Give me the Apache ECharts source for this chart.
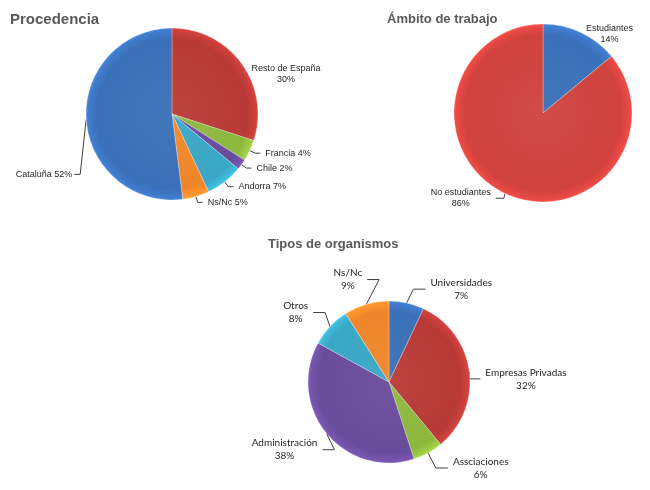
<!DOCTYPE html>
<html>
<head>
<meta charset="utf-8">
<script src="https://cdn.jsdelivr.net/npm/echarts@6/dist/echarts.min.js"></script>
<style>
  html, body { margin: 0; padding: 0; background: #fff; }
  #chart { width: 650px; height: 490px; }
</style>
</head>
<body>
<div id="chart"></div>
<script>
// datos (en sentido horario desde las 12)
const procedenciaNames = ['Resto de España', 'Francia', 'Chile', 'Andorra', 'Ns/Nc', 'Cataluña'];
const procedenciaValues = [30, 4, 2, 7, 5, 52];
const procedenciaColors = ['#B83A36', '#8DB83E', '#6A4C9C', '#3AA7C6', '#F0862A', '#3A70B8'];

const ambitoNames = ['Estudiantes', 'No estudiantes'];
const ambitoValues = [14, 86];
const ambitoColors = ['#3A70B8', '#D0423E'];

const tiposNames = ['Universidades', 'Empresas Privadas', 'Assciaciones', 'Administración', 'Otros', 'Ns/Nc'];
const tiposValues = [7, 32, 6, 38, 8, 9];
const tiposColors = ['#3A70B8', '#B83A36', '#8DB83E', '#6A4C9C', '#3AA7C6', '#F0862A'];

const FONT = 'Liberation Sans, Arial, sans-serif';

// sombreado tipo excel: borde un poco mas oscuro
function shade(c, cx, cy, r) {
    return {
        type: 'radial', x: cx, y: cy, r: r, global: true,
        colorStops: [
            { offset: 0, color: echarts.color.lift(c, 0.05) },
            { offset: 0.88, color: c },
            { offset: 0.97, color: echarts.color.lift(c, -0.12) },
            { offset: 1, color: echarts.color.lift(c, -0.2) }
        ]
    };
}

function makeData(names, values, colors, cx, cy, r) {
    return names.map((n, i) => ({
        name: n,
        value: values[i],
        itemStyle: { color: shade(colors[i], cx, cy, r) }
    }));
}

// texto de varias lineas centrado
function centered(lines) {
    return lines.map(l => '{c|' + l + '}').join('\n');
}

// desplaza una etiqueta y su linea guia
function shiftLabel(p, dx, dy) {
    const pts = p.labelLinePoints;
    const out = { dx: dx, dy: dy };
    if (pts && pts.length === 3) {
        out.labelLinePoints = [pts[0], [pts[1][0] + dx, pts[1][1] + dy], [pts[2][0] + dx, pts[2][1] + dy]];
    }
    return out;
}

const lineStyle = { color: '#404040', width: 1 };
const border = { borderColor: 'rgba(255,255,255,0.45)', borderWidth: 0.6 };
const smallLabel = {
    color: '#262626', fontSize: 9, fontFamily: FONT, lineHeight: 11, overflow: 'none',
    rich: { c: { align: 'center', fontSize: 9, fontFamily: FONT, lineHeight: 11, color: '#262626' } }
};

const procData = makeData(procedenciaNames, procedenciaValues, procedenciaColors, 172, 114, 86);
procData[0].labelLine = { show: false };

const ambData = makeData(ambitoNames, ambitoValues, ambitoColors, 543, 113, 89);
ambData[0].labelLine = { show: false };

const chart = echarts.init(document.getElementById('chart'));
chart.setOption({
    animation: false,
    title: [
        { text: 'Procedencia', left: 5, top: 7, size: 15 },
        { text: 'Ámbito de trabajo', left: 382, top: 8, size: 13 },
        { text: 'Tipos de organismos', left: 263, top: 233, size: 13 }
    ].map(t => Object.assign(t, { textStyle: { fontSize: t.size, fontWeight: 'bold', color: '#595959', fontFamily: FONT } })),
    series: [
        {
            type: 'pie', center: [172, 114], radius: 86, startAngle: 90, clockwise: true,
            data: procData,
            label: Object.assign({}, smallLabel, {
                formatter: p => p.dataIndex === 0
                    ? centered([p.name, p.value + '%'])
                    : p.name + ' ' + p.value + '%'
            }),
            labelLine: { show: true, length: 6, length2: 5, lineStyle: lineStyle },
            labelLayout: function (p) {
                if (p.dataIndex === 0) return { dx: -5, dy: 14 };
                if (p.dataIndex !== 5 || !p.labelLinePoints) return {};
                // Cataluña: etiqueta mas abajo, junto al borde izquierdo
                const pt = p.labelLinePoints[0];
                const y = pt[1] + 55;
                return {
                    x: pt[0] - 14, y: y, align: 'right', verticalAlign: 'middle',
                    labelLinePoints: [pt, [pt[0] - 6, y], [pt[0] - 12, y]]
                };
            },
            itemStyle: border
        },
        {
            type: 'pie', center: [543, 113], radius: 89, startAngle: 90, clockwise: true,
            data: ambData,
            label: Object.assign({}, smallLabel, { formatter: p => centered([p.name, p.value + '%']) }),
            labelLine: { show: true, length: 3, length2: 8, lineStyle: lineStyle },
            labelLayout: p => p.dataIndex === 0 ? { dx: -8, dy: 4 } : shiftLabel(p, 0, 2),
            itemStyle: border
        },
        {
            type: 'pie', center: [389, 382], radius: 81, startAngle: 90, clockwise: true,
            data: makeData(tiposNames, tiposValues, tiposColors, 389, 382, 81),
            label: {
                color: '#262626', fontSize: 10, fontFamily: 'Lato', lineHeight: 13, overflow: 'none',
                formatter: p => centered([p.name, p.value + '%']),
                rich: { c: { align: 'center', fontSize: 10, fontFamily: 'Lato', lineHeight: 13, color: '#262626' } }
            },
            labelLine: { show: true, length: 8, length2: 12, lineStyle: lineStyle },
            labelLayout: function (p) {
                const off = [[5, -6], [-9, 8], [4, 8], [14, 11], [0, -12], [15, -17]][p.dataIndex];
                return shiftLabel(p, off[0], off[1]);
            },
            itemStyle: border
        }
    ]
});
</script>
</body>
</html>
